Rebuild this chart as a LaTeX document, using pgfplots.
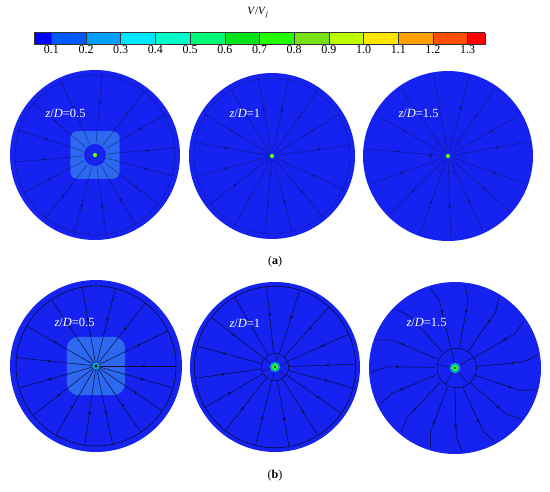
\documentclass[border=0pt]{standalone}
\usepackage{fontspec}
\setmainfont{Liberation Serif}
\usepackage{pgfplots}
\pgfplotsset{compat=1.18}
\usetikzlibrary{decorations.markings}

\definecolor{disk}{RGB}{22,34,240}
\definecolor{core}{RGB}{45,104,240}
\definecolor{sline}{RGB}{8,12,55}

\pgfplotsset{
  colormap={vj}{rgb255=(0,0,255)
    rgb255=(0,90,255) rgb255=(0,90,255)
    rgb255=(0,160,255) rgb255=(0,160,255)
    rgb255=(0,232,255) rgb255=(0,232,255)
    rgb255=(0,255,200) rgb255=(0,255,200)
    rgb255=(0,255,120) rgb255=(0,255,120)
    rgb255=(0,228,25) rgb255=(0,228,25)
    rgb255=(35,255,0) rgb255=(35,255,0)
    rgb255=(120,225,20) rgb255=(120,225,20)
    rgb255=(190,255,0) rgb255=(190,255,0)
    rgb255=(255,230,0) rgb255=(255,230,0)
    rgb255=(255,160,0) rgb255=(255,160,0)
    rgb255=(255,80,0) rgb255=(255,80,0)
    rgb255=(255,0,0)},
  panel/.style n args={3}{scale only axis, width=#3pt, height=#3pt,
    at={(#1pt,-#2pt)}, anchor=center,
    xmin=-1, xmax=1, ymin=-1, ymax=1, hide axis, clip=false},
  ray/.style={sline, line width=0.5pt, data cs=polar, postaction={decorate},
    decoration={markings, mark=at position 0.45 with {\arrow{stealth}}}},
}
\tikzset{lab/.style={white, anchor=west, font=\fontsize{12.5}{14}\selectfont}}

\begin{document}
\begin{tikzpicture}
\path[use as bounding box] (0,0) rectangle (550pt,-491pt);

% colour bar
\begin{axis}[at={(34pt,-24pt)}, anchor=north west,
  scale only axis, width=451pt, height=12pt,
  hide axis, xmin=0, xmax=1, ymin=0, ymax=1,
  colormap name=vj, colormap access=piecewise constant,
  point meta min=0.05, point meta max=1.35,
  colorbar horizontal,
  colorbar style={at={(parent axis.north west)}, anchor=north west,
    scale only axis, width=451pt, height=12pt,
    xtick={0.1,0.2,0.3,0.4,0.5,0.6,0.7,0.8,0.9,1.0,1.1,1.2,1.3},
    xticklabel style={font=\fontsize{12}{14}\selectfont, yshift=2.5pt,
      /pgf/number format/.cd, fixed, fixed zerofill, precision=1,
      assume math mode=true},
    major tick length=12pt, tick align=inside,
    xtick style={black!80, line width=0.6pt},
    axis line style={black!80, line width=0.5pt}}]
\addplot[draw=none] coordinates {(0.5,0.5)};
\end{axis}
\node[font=\fontsize{11}{13}\selectfont] at (258pt,-13pt)
  {\textit{V}/\textit{V}\textsubscript{\textit{j}}};

% (a) z/D = 0.5
\begin{axis}[panel={95}{155}{170}]
\fill[disk] (axis cs:0,0) circle [radius=1];
\fill[core, rounded corners=7pt] (axis cs:-0.29,-0.28) rectangle (axis cs:0.29,0.28);
\fill[disk] (axis cs:0,0) circle [radius=0.13];
\draw[sline, opacity=0.5] (axis cs:0,0) circle [radius=0.94];
\pgfplotsinvokeforeach{5,30,52,85,115,140,162,185,208,232,255,278,300,322,345}{
  \addplot[ray, opacity=0.55] coordinates {(#1,0.95) (#1,0.15)};}
\fill[green!60!yellow] (axis cs:0,0) circle [radius=0.025];
\end{axis}

% (a) z/D = 1
\begin{axis}[panel={272}{156}{166}]
\fill[disk] (axis cs:0,0) circle [radius=1];
\draw[sline, opacity=0.4] (axis cs:0,0) circle [radius=0.94];
\pgfplotsinvokeforeach{8,32,55,78,100,122,148,170,195,218,242,265,285,310,335}{
  \addplot[ray, opacity=0.5] coordinates {(#1,0.95) (#1,0.05)};}
\fill[green!60!yellow] (axis cs:0,0) circle [radius=0.025];
\end{axis}

% (a) z/D = 1.5
\begin{axis}[panel={448}{156}{170}]
\fill[disk] (axis cs:0,0) circle [radius=1];
\draw[sline, opacity=0.3] (axis cs:0,0) circle [radius=0.2];
\pgfplotsinvokeforeach{10,30,55,75,100,125,150,175,200,225,250,272,295,318,340}{
  \addplot[ray, opacity=0.5] coordinates {(#1,0.97) (#1,0.06)};}
\fill[sline, opacity=0.6] (axis cs:-0.21,0.0) circle [radius=0.018];
\fill[green!60!yellow] (axis cs:0,0) circle [radius=0.025];
\end{axis}

% (b) z/D = 0.5
\begin{axis}[panel={96}{366}{172}]
\fill[disk] (axis cs:0,0) circle [radius=1];
\fill[core, rounded corners=12pt] (axis cs:-0.34,-0.34) rectangle (axis cs:0.34,0.34);
\draw[sline, line width=0.6pt] (axis cs:0,0) circle [radius=0.93];
\pgfplotsinvokeforeach{0,26,52,76,100,124,150,174,196,218,240,262,282,304,326,344}{
  \addplot[ray] coordinates {(#1,0.93) (#1,0.04)};}
\fill[cyan!70!green] (axis cs:0,0) circle [radius=0.04];
\fill[black] (axis cs:0,0) circle [radius=0.018];
\end{axis}

% (b) z/D = 1
\begin{axis}[panel={275}{367}{170}]
\fill[disk] (axis cs:0,0) circle [radius=1];
\draw[sline, line width=0.6pt] (axis cs:0,0) circle [radius=0.95];
\draw[sline, line width=0.5pt] (axis cs:0,0) circle [radius=0.16];
\pgfplotsinvokeforeach{2,24,48,72,96,120,142,165,188,210,232,256,280,302,325,345}{
  \addplot[ray] coordinates {(#1,0.95) (#1,0.16)};}
\pgfplotsinvokeforeach{20,80,140,200,260,320}{
  \addplot[sline, line width=0.4pt, data cs=polar] coordinates {(#1,0.16) (#1,0.05)};}
\fill[cyan!80!green] (axis cs:0,0) circle [radius=0.06];
\fill[green!80!yellow] (axis cs:0,0) circle [radius=0.035];
\fill[sline] (axis cs:0,0) circle [radius=0.012];
\end{axis}

% (b) z/D = 1.5
\begin{axis}[panel={455}{368}{172}]
\fill[disk] (axis cs:0,0) circle [radius=1];
\draw[sline, line width=0.5pt] (axis cs:0.02,0) circle [radius=0.23];
\addplot[ray] coordinates {(9,0.97) (5,0.8) (4,0.24)};
\addplot[ray] coordinates {(34,0.97) (30,0.8) (28,0.24)};
\addplot[ray] coordinates {(58,0.97) (54,0.8) (52,0.24)};
\addplot[ray] coordinates {(83,0.97) (79,0.8) (78,0.24)};
\addplot[ray] coordinates {(107,0.97) (103,0.8) (102,0.24)};
\addplot[ray] coordinates {(135,0.97) (131,0.8) (128,0.24)};
\addplot[ray] coordinates {(160,0.96) (156,0.8) (153,0.24)};
\addplot[ray] coordinates {(183,0.97) (179,0.8) (178,0.24)};
\addplot[ray] coordinates {(206,0.97) (202,0.8) (200,0.24)};
\addplot[ray] coordinates {(230,0.97) (226,0.8) (224,0.24)};
\addplot[ray] coordinates {(253,0.97) (249,0.8) (248,0.24)};
\addplot[ray] coordinates {(275,0.97) (271,0.8) (270,0.24)};
\addplot[ray] coordinates {(298,0.97) (294,0.8) (292,0.24)};
\addplot[ray] coordinates {(322,0.97) (318,0.8) (316,0.24)};
\addplot[ray] coordinates {(345,0.97) (341,0.8) (340,0.24)};
\pgfplotsinvokeforeach{30,100,170,240,310}{
  \addplot[sline, line width=0.4pt, data cs=polar] coordinates {(#1,0.23) (#1,0.05)};}
\fill[cyan!80!green] (axis cs:0,0) circle [radius=0.06];
\fill[green!80!yellow] (axis cs:0,0) circle [radius=0.035];
\fill[sline] (axis cs:0,0) circle [radius=0.012];
\end{axis}

% labels
\node[lab] at (42pt,-113pt) {\textit{z}/\textit{D}=0.5};
\node[lab] at (226pt,-113pt) {\textit{z}/\textit{D}=1};
\node[lab] at (395pt,-113pt) {\textit{z}/\textit{D}=1.5};
\node[lab] at (51pt,-322pt) {\textit{z}/\textit{D}=0.5};
\node[lab] at (226pt,-323pt) {\textit{z}/\textit{D}=1};
\node[lab] at (403pt,-322pt) {\textit{z}/\textit{D}=1.5};
\node[font=\fontsize{12}{14}\selectfont] at (275pt,-262pt) {(\textbf{a})};
\node[font=\fontsize{12}{14}\selectfont] at (275pt,-476pt) {(\textbf{b})};
\end{tikzpicture}
\end{document}
